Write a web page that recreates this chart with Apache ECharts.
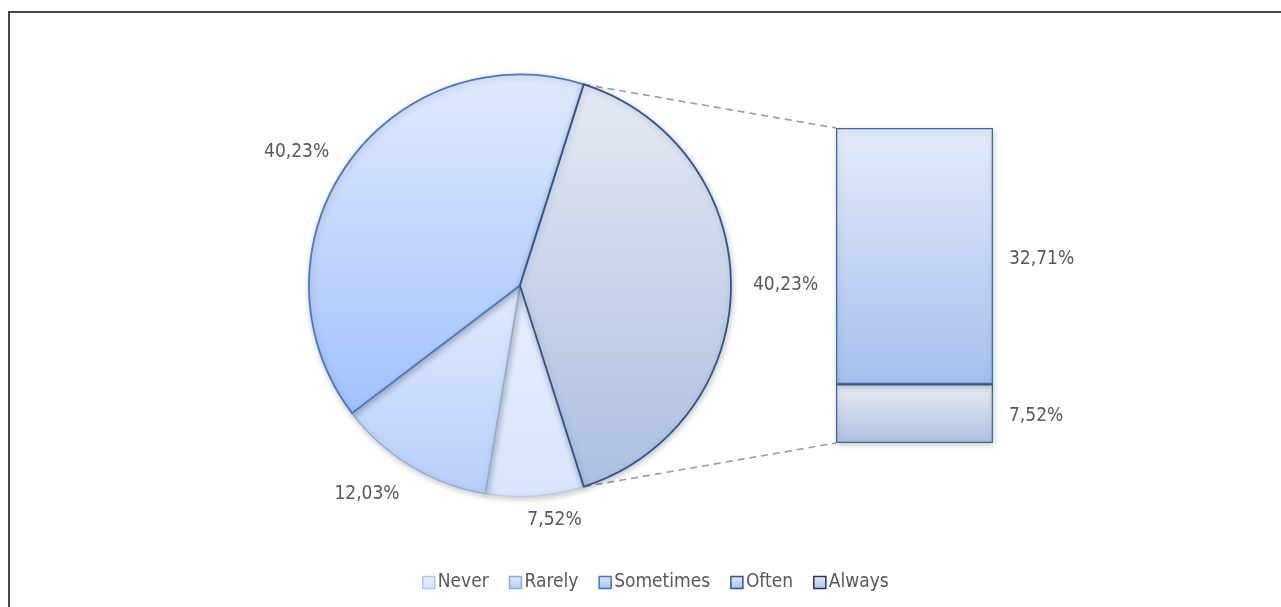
<!DOCTYPE html>
<html>
<head>
<meta charset="utf-8">
<script src="https://cdn.jsdelivr.net/npm/echarts@6/dist/echarts.min.js"></script>
<style>
  html, body { margin: 0; padding: 0; background: #fff; overflow: hidden; width: 1281px; height: 607px; }
  #frame { position: absolute; left: 8px; top: 11px; width: 1400px; height: 700px;
           border-left: 2px solid #474747; border-top: 2px solid #474747; }
  #chart { position: absolute; left: 0; top: 0; width: 1281px; height: 607px; }
</style>
</head>
<body>
<div id="frame"></div>
<div id="chart"></div>
<script>
// Main pie slices (the last slice, "Other", is broken out into the stacked bar)
const pieCategories = ['Never', 'Rarely', 'Sometimes'];
const pieValues = [7.52, 12.03, 40.23];
// Breakout bar segments, top to bottom
const barCategories = ['Often', 'Always'];
const barValues = [32.71, 7.52];
const legendOrder = ['Never', 'Rarely', 'Sometimes', 'Often', 'Always'];

const FONT = '"Liberation Sans Narrow", "DejaVu Sans Condensed", "Liberation Sans", sans-serif';
const TEXT = '#595959';
const LABEL_SIZE = 19;

const pct = v => v.toFixed(2).replace('.', ',') + '%';
const vgrad = (a, b) => new echarts.graphic.LinearGradient(0, 0, 0, 1, [
  { offset: 0, color: a }, { offset: 1, color: b }
]);

const otherValue = +(barValues.reduce((s, v) => s + v, 0)).toFixed(2);
const pieTotal = pieValues.reduce((s, v) => s + v, 0) + otherValue;
const otherSweep = otherValue / pieTotal * 360;
const startAngle = -otherSweep / 2;   // "Other" slice centred on the right side

const pieCenter = [520, 285.5];
const pieRadius = 211;
const barGrid = { left: 836, top: 128, width: 157, height: 315 };

const sliceStyles = {
  Never:     { color: vgrad('#e7effd', '#d7e4fb'), borderColor: '#b9cae9', borderWidth: 1.2 },
  Rarely:    { color: vgrad('#e0eafd', '#b7cefa'), borderColor: '#95aad2', borderWidth: 1.5 },
  Sometimes: { color: vgrad('#dfe9fd', '#a2c1fc'), borderColor: '#4a78c0', borderWidth: 1.8 },
  Other:     { color: vgrad('#e4e9f3', '#acbee0'), borderColor: '#2f5590', borderWidth: 1.8 }
};
const barStyles = {
  Often:  { color: vgrad('#e4ebfa', '#a5bfee'), borderColor: '#3e69a6', borderWidth: 1.3 },
  Always: { color: vgrad('#e8ecf4', '#afc0e1'), borderColor: '#3e69a6', borderWidth: 1.3 }
};
const legendBorders = { Never: '#b4c6e7', Rarely: '#8faadc', Sometimes: '#4472c4', Often: '#2f5597', Always: '#1f3864' };
// Nudges for the lower pie labels, which sit closer to the slice bottoms
const labelOffsets = { Never: [-14, 4], Rarely: [4, 11], Sometimes: [3, 0], Other: [-3, 0] };

const shadow = { shadowBlur: 6, shadowColor: 'rgba(0,0,0,0.22)', shadowOffsetY: 2, shadowOffsetX: 1 };

const pieData = pieCategories.map((name, i) => ({
  name, value: pieValues[i],
  itemStyle: Object.assign({}, sliceStyles[name], shadow),
  label: { offset: labelOffsets[name] }
}));
pieData.push({
  name: 'Other', value: otherValue,
  itemStyle: Object.assign({}, sliceStyles.Other, shadow),
  label: { offset: labelOffsets.Other }
});

// Bars stack bottom-up, so the lowest segment goes first
const barSeries = barCategories.slice().reverse().map(name => {
  const i = barCategories.indexOf(name);
  return {
    name, type: 'bar', stack: 'other', barWidth: '100%',
    data: [barValues[i]],
    itemStyle: Object.assign({}, barStyles[name], shadow),
    label: {
      show: true, position: 'right', distance: 16, offset: [0, 3],
      formatter: p => pct(p.value),
      color: TEXT, fontFamily: FONT, fontSize: LABEL_SIZE
    },
    emphasis: { disabled: true }
  };
});

const chart = echarts.init(document.getElementById('chart'));
chart.setOption({
  animation: false,
  backgroundColor: 'transparent',
  legend: {
    left: 417, top: 568,
    itemWidth: 12, itemHeight: 12, itemGap: 20,
    textStyle: { color: TEXT, fontFamily: FONT, fontSize: LABEL_SIZE, padding: [0, 0, 0, -2] },
    data: legendOrder.map(name => ({
      name, icon: 'rect',
      itemStyle: {
        color: (sliceStyles[name] || barStyles[name]).color,
        borderColor: legendBorders[name], borderWidth: 1.5
      }
    })),
    selectedMode: false
  },
  grid: Object.assign({ containLabel: false }, barGrid),
  xAxis: { type: 'category', data: ['Other'], show: false },
  yAxis: { type: 'value', min: 0, max: otherValue, show: false },
  series: [
    {
      type: 'pie',
      center: pieCenter,
      radius: pieRadius,
      startAngle,
      clockwise: true,
      data: pieData,
      label: {
        show: true, position: 'outside',
        formatter: p => pct(p.value),
        color: TEXT, fontFamily: FONT, fontSize: LABEL_SIZE
      },
      labelLine: { show: false, length: 20, length2: 0 },
      emphasis: { disabled: true }
    },
    ...barSeries
  ]
});

// Dashed connectors from the "Other" slice edges to the bar corners
const rad = Math.PI / 180;
const edgeTop = [pieCenter[0] + pieRadius * Math.cos(-startAngle * rad), pieCenter[1] - pieRadius * Math.sin(-startAngle * rad)];
const edgeBot = [pieCenter[0] + pieRadius * Math.cos(startAngle * rad), pieCenter[1] - pieRadius * Math.sin(startAngle * rad)];
const barTopY = chart.convertToPixel({ gridIndex: 0 }, [0, otherValue])[1];
const barBotY = chart.convertToPixel({ gridIndex: 0 }, [0, 0])[1];
const lineStyle = { stroke: '#9c9c9c', lineWidth: 1.6, lineDash: [7, 5] };
chart.setOption({
  graphic: [
    { type: 'line', z: -1, shape: { x1: edgeTop[0], y1: edgeTop[1], x2: barGrid.left, y2: barTopY }, style: lineStyle },
    { type: 'line', z: -1, shape: { x1: edgeBot[0], y1: edgeBot[1], x2: barGrid.left, y2: barBotY }, style: lineStyle }
  ]
});
</script>
</body>
</html>
